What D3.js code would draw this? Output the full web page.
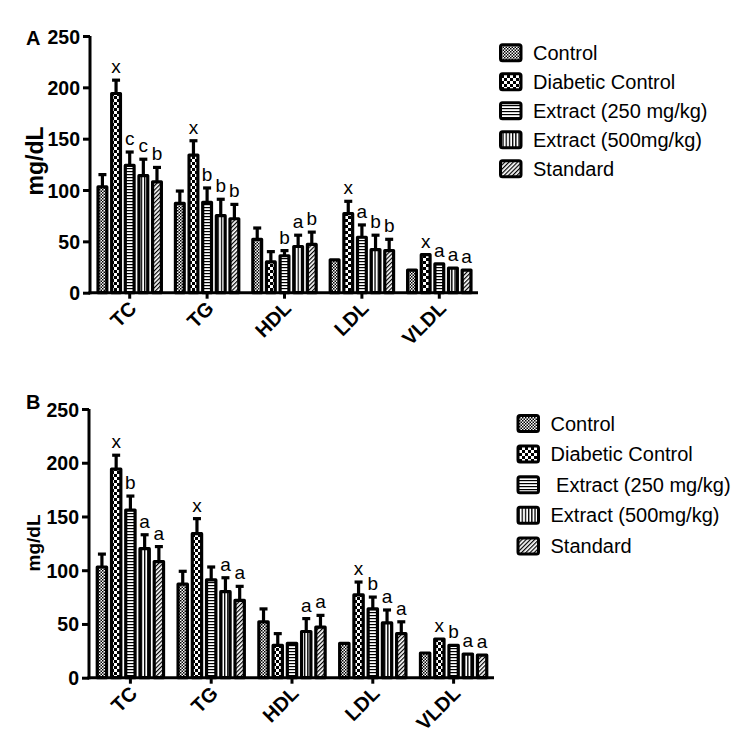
<!DOCTYPE html>
<html>
<head>
<meta charset="utf-8">
<script src="https://cdn.jsdelivr.net/npm/d3@7"></script>
<style>
  html, body { margin: 0; padding: 0; background: #fff; }
  svg { display: block; }
  text { font-family: "Liberation Sans", Arial, Helvetica, sans-serif; }
</style>
</head>
<body>
<svg id="chart" width="747" height="751"></svg>
<script>
// ---------- data ----------
const categories = ["TC", "TG", "HDL", "LDL", "VLDL"];
const seriesNames = ["Control", "Diabetic Control", "Extract (250 mg/kg)", "Extract (500mg/kg)", "Standard"];
const legendLabelsA = ["Control", "Diabetic Control", "Extract (250 mg/kg)", "Extract (500mg/kg)", "Standard"];
const legendLabelsB = ["Control", "Diabetic Control", " Extract (250 mg/kg)", "Extract (500mg/kg)", "Standard"];
const yTicks = [0, 50, 100, 150, 200, 250];

// Panel A means
const aControl  = [103, 87, 52, 32, 22];
const aDiabetic = [194, 134, 30, 77, 37];
const aExt250   = [124, 88, 36, 54, 28];
const aExt500   = [114, 75, 45, 42, 24];
const aStandard = [108, 72, 47, 41, 22];
// Panel A errors (SEM)
const aControlErr  = [12, 12, 11, 0, 0];
const aDiabeticErr = [13, 14, 10, 12, 0];
const aExt250Err   = [13, 14, 5, 12, 0];
const aExt500Err   = [16, 16, 11, 14, 0];
const aStandardErr = [14, 14, 12, 11, 0];
// Panel A significance letters
const aControlSig  = ["", "", "", "", ""];
const aDiabeticSig = ["x", "x", "", "x", "x"];
const aExt250Sig   = ["c", "b", "b", "a", "a"];
const aExt500Sig   = ["c", "b", "a", "b", "a"];
const aStandardSig = ["b", "b", "b", "b", "a"];

// Panel B means
const bControl  = [103, 87, 52, 32, 23];
const bDiabetic = [194, 134, 30, 77, 36];
const bExt250   = [156, 91, 32, 64, 30];
const bExt500   = [120, 80, 43, 51, 22];
const bStandard = [108, 72, 47, 41, 21];
// Panel B errors
const bControlErr  = [12, 12, 12, 0, 0];
const bDiabeticErr = [13, 14, 11, 12, 0];
const bExt250Err   = [13, 12, 0, 11, 0];
const bExt500Err   = [13, 13, 12, 12, 0];
const bStandardErr = [14, 13, 11, 11, 0];
// Panel B significance letters
const bControlSig  = ["", "", "", "", ""];
const bDiabeticSig = ["x", "x", "", "x", "x"];
const bExt250Sig   = ["b", "", "", "b", "b"];
const bExt500Sig   = ["a", "a", "a", "a", "a"];
const bStandardSig = ["a", "a", "a", "a", "a"];

const patternIds = ["pControl", "pDiabetic", "pExt250", "pExt500", "pStandard"];

// ---------- patterns ----------
const svg = d3.select("#chart");
const defs = svg.append("defs");

function addPattern(id, w, h, draw, transform) {
  const p = defs.append("pattern").attr("id", id)
    .attr("patternUnits", "userSpaceOnUse").attr("width", w).attr("height", h);
  if (transform) p.attr("patternTransform", transform);
  p.append("rect").attr("width", w).attr("height", h).attr("fill", "#fff");
  draw(p);
}
addPattern("pControl", 3, 3, p => {
  p.append("rect").attr("x", 0).attr("y", 0).attr("width", 1.5).attr("height", 1.5).attr("fill", "#000");
  p.append("rect").attr("x", 1.5).attr("y", 1.5).attr("width", 1.5).attr("height", 1.5).attr("fill", "#000");
});
addPattern("pDiabetic", 6, 6, p => {
  p.append("rect").attr("x", 0).attr("y", 0).attr("width", 3).attr("height", 3).attr("fill", "#000");
  p.append("rect").attr("x", 3).attr("y", 3).attr("width", 3).attr("height", 3).attr("fill", "#000");
});
addPattern("pExt250", 4, 3, p => {
  p.append("rect").attr("x", 0).attr("y", 0).attr("width", 4).attr("height", 1.2).attr("fill", "#000");
});
addPattern("pExt500", 3.2, 4, p => {
  p.append("rect").attr("x", 0).attr("y", 0).attr("width", 1.3).attr("height", 4).attr("fill", "#000");
});
addPattern("pStandard", 3, 3, p => {
  p.append("rect").attr("x", 0).attr("y", 0).attr("width", 1.2).attr("height", 3).attr("fill", "#000");
}, "rotate(45)");

// ---------- panel drawing ----------
function drawPanel(cfg) {
  const g = svg.append("g");
  const x = d3.scaleBand().domain(categories).range([cfg.x0, cfg.x1]);
  const y = d3.scaleLinear().domain([0, 250]).range([cfg.yBottom, cfg.yTop]);
  const groupW = x.bandwidth() * 0.86;
  const inner = d3.scaleBand().domain(seriesNames)
    .range([-groupW / 2, groupW / 2]).paddingInner(0.12).paddingOuter(0);
  const bw = inner.bandwidth();

  // bars
  cfg.series.forEach((vals, si) => {
    const errs = cfg.errors[si];
    const sigs = cfg.sigs[si];
    const name = seriesNames[si];
    const sg = g.append("g");
    categories.forEach((c, ci) => {
      const cx = x(c) + x.bandwidth() / 2 + inner(name) + bw / 2;
      const v = vals[ci], e = errs[ci];
      if (e > 0) {
        sg.append("line").attr("x1", cx).attr("x2", cx)
          .attr("y1", y(v)).attr("y2", y(v + e))
          .attr("stroke", "#000").attr("stroke-width", 3.2);
        sg.append("line").attr("x1", cx - 4).attr("x2", cx + 4)
          .attr("y1", y(v + e)).attr("y2", y(v + e))
          .attr("stroke", "#000").attr("stroke-width", 3.2);
      }
      sg.append("rect")
        .attr("x", cx - bw / 2 + 1.6).attr("width", bw - 3.2)
        .attr("y", y(v)).attr("height", y(0) - y(v))
        .attr("fill", "url(#" + patternIds[si] + ")")
        .attr("stroke", "#000").attr("stroke-width", 3.2)
        .attr("stroke-linejoin", "round");
      if (sigs[ci]) {
        sg.append("text").attr("x", cx).attr("y", y(v + e) - 7)
          .attr("text-anchor", "middle").attr("font-size", 19)
          .attr("fill", "#000").text(sigs[ci]);
      }
    });
  });

  // y axis
  const yAxis = d3.axisLeft(y).tickValues(yTicks).tickSize(7).tickPadding(3).tickFormat(d3.format("d"));
  const ya = g.append("g").attr("transform", `translate(${cfg.x0 - 1},0)`).call(yAxis);
  ya.select(".domain").attr("stroke-width", 3).attr("d", `M0,${cfg.yTop}V${cfg.yBottom + 1.5}`);
  ya.selectAll(".tick line").attr("stroke-width", 3);
  ya.selectAll(".tick text").attr("font-size", 19.5).attr("font-weight", "bold")
    .attr("font-family", "Liberation Sans, Arial, sans-serif").attr("dy", "0.36em");

  // x axis
  const xAxis = d3.axisBottom(x).tickSize(6).tickFormat("");
  const xa = g.append("g").attr("transform", `translate(0,${cfg.yBottom})`).call(xAxis);
  xa.select(".domain").attr("stroke-width", 3).attr("d", `M${cfg.x0 - 2.5},0H${cfg.x1}`);
  xa.selectAll(".tick line").attr("stroke-width", 3);
  categories.forEach(c => {
    const cx = x(c) + x.bandwidth() / 2;
    g.append("text")
      .attr("transform", `translate(${cx + 8},${cfg.yBottom + 17}) rotate(-45)`)
      .attr("text-anchor", "end").attr("font-size", 20).attr("font-weight", "bold")
      .text(c);
  });

  // y label
  g.append("text")
    .attr("transform", `translate(${cfg.yLabelX},${cfg.yLabelCY}) rotate(-90)`)
    .attr("text-anchor", "middle").attr("font-size", cfg.yLabelSize).attr("font-weight", "bold")
    .text("mg/dL");

  // panel letter
  g.append("text").attr("x", cfg.letterX).attr("y", cfg.letterY)
    .attr("font-size", 20).attr("font-weight", "bold").text(cfg.letter);

  // legend
  const lg = g.append("g");
  cfg.legendLabels.forEach((lab, i) => {
    const cy = cfg.legendY0 + i * cfg.legendStep;
    lg.append("rect").attr("x", cfg.legendX + 1.5).attr("y", cy - 8)
      .attr("width", 20.5).attr("height", 16).attr("rx", 2)
      .attr("fill", "url(#" + patternIds[i] + ")")
      .attr("stroke", "#000").attr("stroke-width", 3);
    lg.append("text").attr("x", cfg.legendX + 34).attr("y", cy + 7)
      .attr("font-size", 20).attr("xml:space", "preserve")
      .style("white-space", "pre").text(lab);
  });
}

drawPanel({
  x0: 91, x1: 478, yTop: 36, yBottom: 292.7,
  series: [aControl, aDiabetic, aExt250, aExt500, aStandard],
  errors: [aControlErr, aDiabeticErr, aExt250Err, aExt500Err, aStandardErr],
  sigs: [aControlSig, aDiabeticSig, aExt250Sig, aExt500Sig, aStandardSig],
  yLabelX: 43, yLabelCY: 161, yLabelSize: 23, letter: "A", letterX: 26, letterY: 45,
  legendLabels: legendLabelsA, legendX: 499, legendY0: 52.7, legendStep: 29
});

drawPanel({
  x0: 90, x1: 494, yTop: 409, yBottom: 677.7,
  series: [bControl, bDiabetic, bExt250, bExt500, bStandard],
  errors: [bControlErr, bDiabeticErr, bExt250Err, bExt500Err, bStandardErr],
  sigs: [bControlSig, bDiabeticSig, bExt250Sig, bExt500Sig, bStandardSig],
  yLabelX: 40, yLabelCY: 543, yLabelSize: 19, letter: "B", letterX: 26, letterY: 409,
  legendLabels: legendLabelsB, legendX: 516.5, legendY0: 423.5, legendStep: 30.6
});
</script>
</body>
</html>
